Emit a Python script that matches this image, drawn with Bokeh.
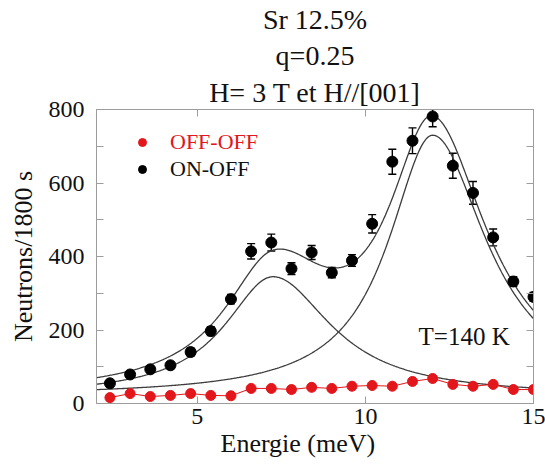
import numpy as np
from bokeh.plotting import figure
from bokeh.models import (ColumnDataSource, Whisker, TeeHead, FixedTicker, LinearAxis,
                          Range1d, Title, Label, Legend, LegendItem)
from bokeh.embed import file_html
from bokeh.resources import INLINE

# Energy transfer (meV) of each measured point
energy = [2.4, 3.0, 3.6, 4.2, 4.8, 5.4, 6.0, 6.6, 7.2, 7.8, 8.4,
          9.0, 9.6, 10.2, 10.8, 11.4, 12.0, 12.6, 13.2, 13.8, 14.4, 15.0]

# Counts per 1800 s, polarisation channels
off_off = [16, 27, 19, 22, 27, 22, 21, 41, 41, 38, 44,
           41, 47, 49, 47, 60, 68, 52, 47, 52, 38, 38]
on_off = [55, 79, 93, 104, 140, 197, 284, 414, 438, 367, 411,
          356, 389, 489, 658, 715, 781, 647, 573, 452, 332, 290]
on_off_err = [6, 8, 9, 9, 11, 12, 13, 21, 23, 16, 19,
              14, 16, 25, 34, 35, 28, 34, 31, 23, 13, 12]

# Two-peak fit of the ON-OFF channel (flat background + two Lorentzians)
background = 20.0
peak_center = [7.25, 12.0]
peak_height = [325.0, 710.0]
hwhm_low = [1.75, 1.6]    # half width on the low-energy side
hwhm_high = [2.1, 1.95]   # half width on the high-energy side

x_ticks = [5, 10, 15]
y_ticks = [0, 200, 400, 600, 800]
y_minor = [100, 300, 500, 700]

RED = "#e3161b"
GREY = "#9d9d9d"
CURVE = "#3c3c3c"
INK = "#111111"
FONT = "Times New Roman"


def lorentz(x, c, h, wl, wh):
    w = np.where(x < c, wl, wh)
    return h / (1.0 + ((x - c) / w) ** 2)


xf = np.linspace(2.0, 15.0, 500)
peak1 = lorentz(xf, peak_center[0], peak_height[0], hwhm_low[0], hwhm_high[0])
peak2 = lorentz(xf, peak_center[1], peak_height[1], hwhm_low[1], hwhm_high[1])
fit_src = ColumnDataSource(dict(x=xf, c1=background + peak1, c2=background + peak2,
                                tot=background + peak1 + peak2))

pts = ColumnDataSource(dict(
    x=energy, off=off_off, on=on_off,
    lo=[v - e for v, e in zip(on_off, on_off_err)],
    hi=[v + e for v, e in zip(on_off, on_off_err)],
))

p = figure(width=545, height=470, output_backend="svg", toolbar_location=None,
           title=None, x_range=Range1d(2, 15), y_range=Range1d(0, 800),
           min_border_left=96, min_border_right=12, min_border_top=109,
           min_border_bottom=67, x_axis_type=None, y_axis_type=None)
p.grid.visible = False
p.outline_line_color = GREY
p.background_fill_color = "white"
p.border_fill_color = "white"


def make_axis(ticks, minor, show_labels, label=""):
    ax = LinearAxis(ticker=FixedTicker(ticks=ticks, minor_ticks=minor))
    ax.axis_line_color = GREY
    ax.major_tick_line_color = GREY
    ax.minor_tick_line_color = GREY
    ax.major_tick_in = 7
    ax.major_tick_out = 0
    ax.minor_tick_in = 7
    ax.minor_tick_out = 0
    ax.major_label_text_font = FONT
    ax.axis_label_text_font = FONT
    ax.axis_label_text_font_style = "normal"
    ax.axis_label_text_color = INK
    if show_labels:
        ax.major_label_text_color = INK
        ax.major_label_text_font_size = "24px"
        ax.axis_label = label
        ax.axis_label_text_font_size = "26px"
    else:
        ax.major_label_text_color = None
        ax.major_label_text_font_size = "1px"
        ax.major_label_standoff = 0
    return ax


xb = make_axis(x_ticks, [], True)
xb.major_label_standoff = 5
p.add_layout(xb, "below")

yl = make_axis(y_ticks, y_minor, True, "Neutrons/1800 s")
yl.major_label_standoff = 12
yl.axis_label_standoff = 8
p.add_layout(yl, "left")

p.add_layout(make_axis(y_ticks, y_minor, False), "right")
p.add_layout(make_axis(x_ticks, [], False), "above")

# x-axis title, a little left of the frame centre
p.add_layout(Title(text="Energie (meV)", align="left", offset=124, text_font=FONT,
                   text_font_size="26px", text_font_style="normal", text_color=INK,
                   standoff=0), "below")

# Title lines, innermost first
for line, so in (("H= 3 T et H//[001]", 4), ("q=0.25", 3), ("Sr 12.5%", 3)):
    p.add_layout(Title(text=line, align="center", text_font=FONT,
                       text_font_size="28px", text_font_style="normal", text_color=INK,
                       standoff=so), "above")

# Fit curves
for col in ("c1", "c2", "tot"):
    p.line("x", col, source=fit_src, line_color=CURVE, line_width=1.3)

# OFF-OFF channel
p.line("x", "off", source=pts, line_color=RED, line_width=1)
r_off = p.scatter("x", "off", source=pts, size=10, marker="circle",
                  fill_color=RED, line_color=RED)

# ON-OFF channel with error bars
p.add_layout(Whisker(source=pts, base="x", lower="lo", upper="hi",
                     line_color="black", line_width=1.4,
                     upper_head=TeeHead(size=8, line_color="black", line_width=1.4),
                     lower_head=TeeHead(size=8, line_color="black", line_width=1.4)))
r_on = p.scatter("x", "on", source=pts, size=11, marker="circle",
                 fill_color="black", line_color="black")


def legend_for(renderer, text, color, loc):
    lg = Legend(items=[LegendItem(label=text, renderers=[renderer])], location=loc,
                label_text_font=FONT, label_text_font_size="22px", label_text_color=color,
                glyph_width=20, glyph_height=26, label_height=26, label_standoff=18,
                padding=0, margin=0, spacing=0,
                background_fill_alpha=0, border_line_alpha=0)
    p.add_layout(lg)


legend_for(r_off, "OFF-OFF", RED, (36, 248))
legend_for(r_on, "ON-OFF", INK, (36, 221))

p.add_layout(Label(x=11.58, y=181, text="T=140 K", text_font=FONT,
                   text_font_size="25px", text_color=INK,
                   text_baseline="alphabetic"))

open("out.html", "w").write(file_html(p, INLINE))
